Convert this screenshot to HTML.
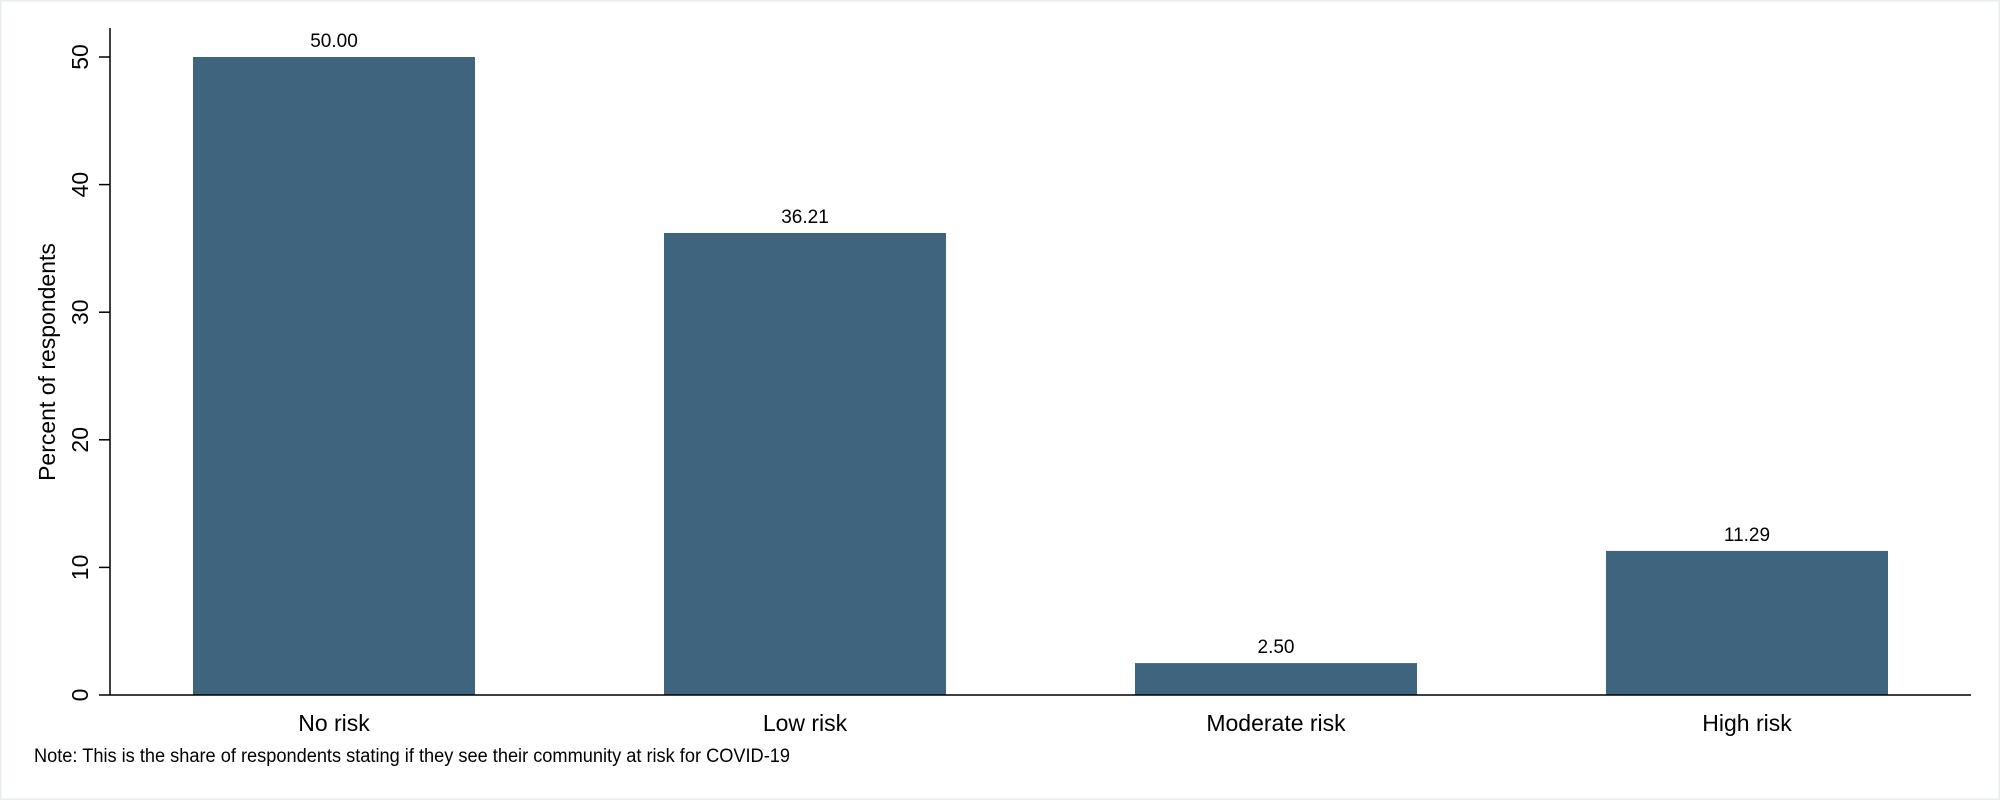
<!DOCTYPE html>
<html><head><meta charset="utf-8"><style>
html,body{margin:0;padding:0;background:#fff;}
svg{display:block;font-family:"Liberation Sans",Arial,sans-serif;}
</style></head><body>
<svg id="chart" width="2000" height="800" viewBox="0 0 2000 800" xmlns="http://www.w3.org/2000/svg">
<rect x="0" y="0" width="2000" height="800" fill="#fff" stroke="#e6ecef" stroke-width="3"/>
<g id="plot"></g>
</svg>
<script>
const categories = ["No risk", "Low risk", "Moderate risk", "High risk"];
const values = [50.00, 36.21, 2.50, 11.29];
const valueLabels = ["50.00", "36.21", "2.50", "11.29"];
const yTicks = [0, 10, 20, 30, 40, 50];

const NS = "http://www.w3.org/2000/svg";
const g = document.getElementById("plot");
const axisX = 110, baseY = 695, axisTop = 28, axisRight = 1971;
const yPerUnit = (695 - 57) / 50;
const y = v => baseY - v * yPerUnit;
const bandStart = 193, bandStep = 471, barW = 282;
const xLeft = i => bandStart + i * bandStep;

function el(tag, attrs, text) {
  const e = document.createElementNS(NS, tag);
  for (const k in attrs) e.setAttribute(k, attrs[k]);
  if (text !== undefined) e.textContent = text;
  g.appendChild(e);
  return e;
}

categories.forEach((c, i) => {
  const r = el("rect", {x: xLeft(i), y: y(values[i]), width: barW, height: baseY - y(values[i]), fill: "#3e647e"});
  
  
  const t = el("text", {x: xLeft(i) + barW / 2, y: y(values[i]) - 10, "text-anchor": "middle", "font-size": "19", fill: "#000"}, valueLabels[i]);
  
  
  const cl = el("text", {x: xLeft(i) + barW / 2, y: 731, "text-anchor": "middle", "font-size": "23", fill: "#000"}, c);
  
  
});

const ya = el("line", {x1: axisX, y1: axisTop, x2: axisX, y2: baseY, stroke: "#000", "stroke-width": 1.5});


const xa = el("line", {x1: axisX, y1: baseY, x2: axisRight, y2: baseY, stroke: "#000", "stroke-width": 1.5});



yTicks.forEach(v => {
  const tk = el("line", {x1: axisX - 11, y1: y(v), x2: axisX, y2: y(v), stroke: "#000", "stroke-width": 1.5});
  
  
  const tl = el("text", {x: 88, y: y(v), "text-anchor": "middle", "font-size": "23", fill: "#000", transform: `rotate(-90 88 ${y(v)})`}, String(v));
  
  
});

const yt = el("text", {x: 55, y: 362, "text-anchor": "middle", "font-size": "23", fill: "#000", transform: "rotate(-90 55 362)"}, "Percent of respondents");



const note = el("text", {x: 34, y: 762, "font-size": "19", fill: "#000", textLength: "756", lengthAdjust: "spacingAndGlyphs"}, "Note: This is the share of respondents stating if they see their community at risk for COVID-19");


</script>
</body></html>
